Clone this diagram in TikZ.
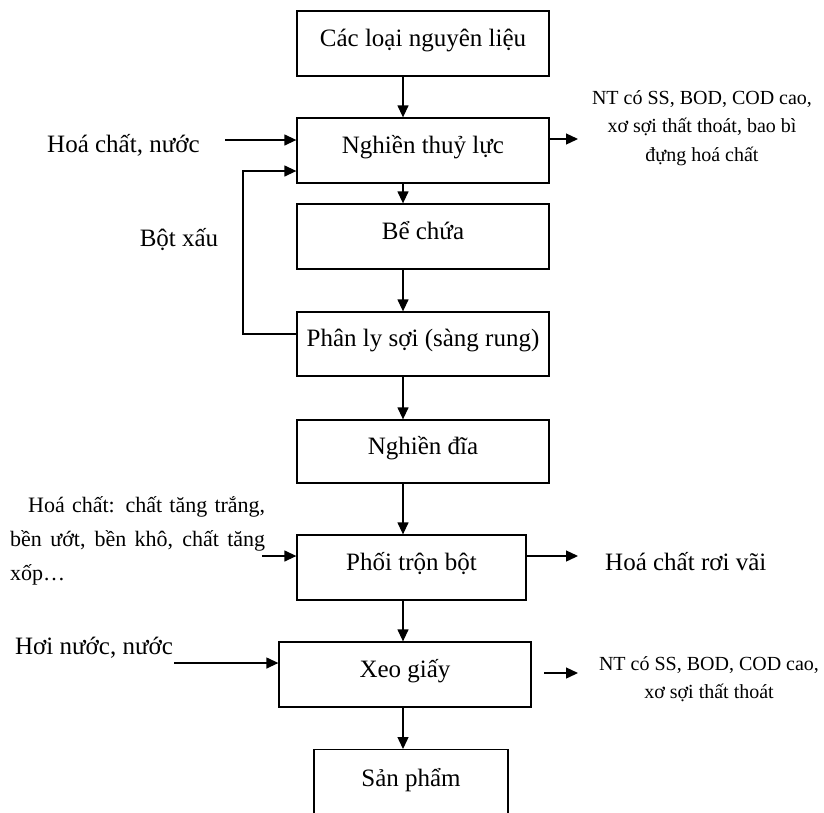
\documentclass[tikz,border=0pt]{standalone}
\usepackage{fontspec}
\setmainfont{Liberation Serif}
\usetikzlibrary{arrows.meta,calc}
\begin{document}
\begin{tikzpicture}[x=1pt,y=-1pt,
  box/.style={draw, line width=1.3pt, minimum width=252pt, minimum height=65pt, inner sep=0pt,
    font=\fontsize{25}{30}\selectfont, text height=19pt, text depth=14pt},
  arr/.style={line width=1.3pt, -{Triangle[length=12pt,width=11pt]}},
  lbl/.style={inner sep=0pt, font=\fontsize{25}{30}\selectfont},
  note/.style={inner sep=0pt, align=center, font=\fontsize{20}{28.5}\selectfont}]
\useasboundingbox (0,0) rectangle (824,812);
\clip (0,0) rectangle (824,812);

% main boxes
\node[box] (b1) at (423,43.5) {Các loại nguyên liệu};
\node[box] (b2) at (423,150.5) {Nghiền thuỷ lực};
\node[box] (b3) at (423,236.5) {Bể chứa};
\node[box, minimum height=64pt] (b4) at (423,344) {Phân ly sợi (sàng rung)};
\node[box, minimum height=63pt] (b5) at (423,451.5) {Nghiền đĩa};
\node[box, minimum width=229pt] (b6) at (411.5,567.5) {Phối trộn bột};
\node[box] (b7) at (405,674.5) {Xeo giấy};
\node[box, minimum width=194pt, minimum height=100pt, anchor=north, text height=18pt, text depth=44pt] (b8) at (411,749) {Sản phẩm};

% vertical flow
\coordinate (ax) at (403,0);
\foreach \a/\b in {b1/b2,b2/b3,b3/b4,b4/b5,b5/b6,b6/b7,b7/b8}
  \draw[arr] (ax |- \a.south) -- (ax |- \b.north);

% inputs / outputs of b2
\node[lbl, anchor=west] (t1) at (47,145) {Hoá chất, nước};
\coordinate (s1) at (225,140);
\draw[arr] (s1) -- (s1 -| b2.west);

\node[lbl] (t2) at (179,240) {Bột xấu};
\coordinate (f1) at (243,334);
\coordinate (f2) at (243,171);
\draw[arr] (b4.west |- f1) -- (f1) -- (f2) -- (f2 -| b2.west);

\coordinate (e1) at (578,139);
\draw[arr] (e1 -| b2.east) -- (e1);
\node[note] (t3) at (702,128) {NT có SS, BOD, COD cao,\\ xơ sợi thất thoát, bao bì\\ đựng hoá chất};

% b6
\node[inner sep=0pt, anchor=north west, text width=255pt, align=justify,
  font=\fontsize{22}{34}\selectfont] (t4) at (10,496)
  {\hspace*{18pt}Hoá chất: chất tăng trắng,\linebreak bền ướt, bền khô, chất tăng\linebreak xốp…};
\coordinate (s4) at (262,556);
\draw[arr] (s4) -- (s4 -| b6.west);

\coordinate (e6) at (578,556);
\draw[arr] (e6 -| b6.east) -- (e6);
\node[lbl, anchor=west] (t5) at (605,562) {Hoá chất rơi vãi};

% b7
\node[lbl, anchor=west] (t6) at (15,648) {Hơi nước, nước};
\coordinate (s7) at (174,663);
\draw[arr] (s7) -- (s7 -| b7.west);

\coordinate (e7a) at (544,673);
\coordinate (e7b) at (578,673);
\draw[arr] (e7a) -- (e7b);
\node[note] (t7) at (709,679) {NT có SS, BOD, COD cao,\\ xơ sợi thất thoát};
\end{tikzpicture}
\end{document}
